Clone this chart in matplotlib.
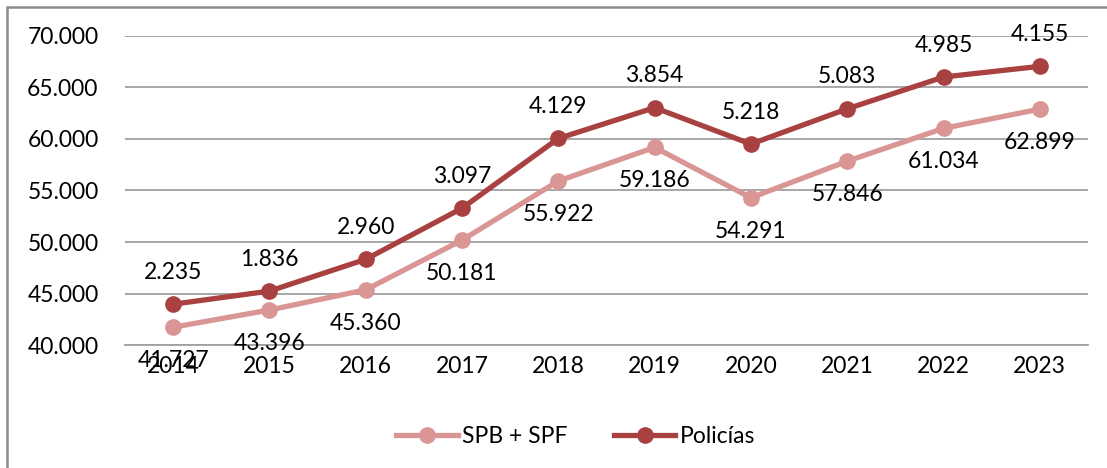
import matplotlib.pyplot as plt
from matplotlib.patches import Rectangle
from matplotlib.ticker import FuncFormatter

years = ['2014', '2015', '2016', '2017', '2018', '2019', '2020', '2021', '2022', '2023']
spb_spf = [41727, 43396, 45360, 50181, 55922, 59186, 54291, 57846, 61034, 62899]
policias = [2235, 1836, 2960, 3097, 4129, 3854, 5218, 5083, 4985, 4155]

light = '#D99694'
dark = '#AA4141'

plt.rcParams['font.family'] = ['Lato', 'DejaVu Sans']


def miles(v):
    return f'{v:,.0f}'.replace(',', '.')


fig = plt.figure(figsize=(11.07, 4.68), dpi=100)
ax = fig.add_axes([0.1129, 0.2628, 0.8699, 0.6603])

x = list(range(len(years)))
total = [a + b for a, b in zip(spb_spf, policias)]

ax.plot(x, spb_spf, color=light, lw=3.8, marker='o', ms=11, label='SPB + SPF', zorder=3)
ax.plot(x, total, color=dark, lw=3.8, marker='o', ms=11, label='Policías', zorder=4)

for i in x:
    ax.annotate(miles(spb_spf[i]), (i, spb_spf[i]), xytext=(0, -24), textcoords='offset points',
                ha='center', va='center', fontsize=16.5)
    ax.annotate(miles(policias[i]), (i, total[i]), xytext=(0, 23), textcoords='offset points',
                ha='center', va='center', fontsize=16.5)

ax.set_xlim(-0.5, 9.5)
ax.set_ylim(40000, 70000)
ax.set_yticks(range(40000, 70001, 5000))
ax.yaxis.set_major_formatter(FuncFormatter(lambda v, p: miles(v)))
ax.set_xticks(x)
ax.set_xticklabels(years)
ax.tick_params(length=0, labelsize=16.5)
ax.tick_params(axis='y', pad=19)
ax.tick_params(axis='x', pad=8)
ax.grid(axis='y', color='#A0A0A0', lw=1.3)
for s in ['left', 'right', 'top']:
    ax.spines[s].set_visible(False)
ax.spines['bottom'].set_color('#A0A0A0')
ax.spines['bottom'].set_linewidth(1.3)
ax.set_axisbelow(True)

fig.legend(loc='center', bbox_to_anchor=(0.52, 0.067), ncol=2, frameon=False,
           fontsize=16.5, handlelength=2.7, columnspacing=2.0, handletextpad=0.2)

fig.patches.append(Rectangle((0.0065, -0.1), 1.1, 1.085, transform=fig.transFigure,
                             fill=False, edgecolor='#8C8C8C', lw=1.8))

fig.savefig('out.png', dpi=100)
